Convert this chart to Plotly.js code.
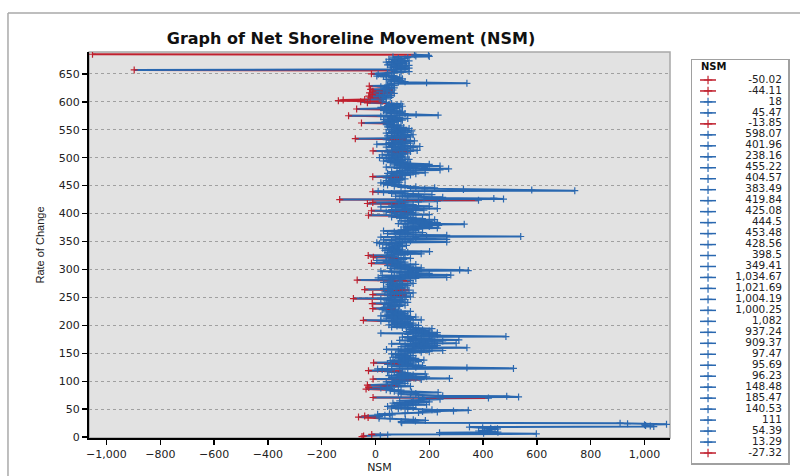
<!DOCTYPE html>
<html>
<head>
<meta charset="utf-8">
<script src="https://cdn.plot.ly/plotly-3.0.1.min.js"></script>
<style>html,body{margin:0;padding:0;background:#fff}#chart{width:800px;height:476px}</style>
</head>
<body>
<div id="chart"></div>
<script>
// Net Shoreline Movement per transect (transect 1 at the bottom, upward)
const nsm = [
-50.02,-44.11,18,45.47,-13.85,598.07,401.96,238.16,455.22,404.57,
383.49,419.84,425.08,444.5,453.48,428.56,398.5,349.41,1034.67,1021.69,
1004.19,1000.25,1082,937.24,909.37,97.47,95.69,96.23,148.48,185.47,
140.53,111,54.39,13.29,-27.32,-63,15,-40,35,62,
8,52,110,160,230,175,290,345,210,120,
85,60,140,95,45,120,70,190,150,110,
65,135,200,160,90,140,180,240,175,420,
-9,532,488,250,160,130,95,150,85,233,
134,70,55,95,40,-35,55,20,-25,60,
130,85,-30,45,75,110,65,90,40,120,
75,100,170,-9,275,150,60,190,110,50,
140,80,185,95,120,70,45,100,-26,60,
25,8,513,340,150,90,60,175,120,45,
140,95,-7,70,160,110,55,180,130,85,
150,100,65,120,90,140,75,110,60,95,
130,170,200,85,250,140,41,180,120,340,
210,95,160,230,110,190,60,300,150,220,
130,250,90,310,170,120,210,140,100,485,
200,150,230,120,180,20,230,160,115,200,
140,175,125,210,150,100,60,130,80,160,
50,110,70,140,95,60,120,20,-45,170,
80,130,40,100,150,65,20,120,85,45,
110,70,95,40,130,60,85,25,75,-10,
55,30,65,90,45,110,70,35,-12,80,
120,60,95,40,75,110,20,-82,100,55,
130,70,45,115,-10,90,60,140,80,35,
100,55,125,-40,75,30,110,60,90,45,
120,80,50,100,140,65,30,90,55,130,
-68,95,60,150,10,265,110,70,25,280,
150,90,200,120,60,160,20,345,313,140,
95,55,170,110,70,130,45,90,150,60,
-15,80,110,40,95,5,65,105,50,130,
85,-8,70,40,-27,110,60,170,95,45,
120,201,75,35,100,60,90,27,80,50,
100,70,115,40,85,15,100,5,265,90,
130,60,30,265,110,75,150,20,540,190,
265,90,140,45,120,175,70,110,30,150,
95,160,120,230,160,105,200,140,235,110,
330,85,180,230,120,200,95,150,220,130,
175,90,140,60,110,80,-26,200,120,70,
150,95,40,130,-15,180,60,110,230,75,
150,20,200,100,60,140,85,-30,110,-10,
160,230,90,383,-133,476,440,180,250,120,
75,160,100,210,140,60,110,30,-10,10,
741,581,327,183,130,220,95,150,70,110,
45,85,30,65,20,90,50,75,40,95,
60,110,80,40,100,-10,55,90,130,70,
150,45,185,100,60,140,90,240,120,272,
80,183,40,150,240,110,70,200,130,90,
55,120,75,30,100,60,125,40,85,15,
110,70,50,95,25,80,120,60,100,45,
130,-9,155,90,60,120,75,140,40,165,
95,60,110,5,85,130,50,100,70,145,
90,40,115,-75,95,60,130,80,45,110,
140,70,95,40,120,85,60,135,100,50,
90,125,65,105,45,80,60,95,40,70,
55,-52,70,35,85,50,100,30,75,120,
45,90,60,20,-100,233,151,80,110,40,
95,55,100,30,80,35,-70,60,90,20,
70,100,45,80,50,95,60,-30,40,-55,
25,-138,-120,-40,40,30,-20,55,25,-25,
60,15,-12,45,70,-22,30,55,-10,40,
65,-18,50,35,70,40,20,-23,70,45,
60,50,340,190,85,110,55,95,70,40,
100,80,60,90,30,5,66,40,10,-15,
45,70,95,125,60,67,-897,110,80,125,
95,55,110,75,125,45,90,60,115,80,
40,100,125,70,95,50,110,85,120,65,
200,150,197,145,-1052
];
const firstTransect = 1;
const legendCount = 35;
const xTickVals = [-1000,-800,-600,-400,-200,0,200,400,600,800,1000];
const yTickVals = [0,50,100,150,200,250,300,350,400,450,500,550,600,650];

const RED = '#c0202e', BLUE = '#2a68b0';
const colorOf = v => v < 0 ? RED : BLUE;
const ids = nsm.map((v, i) => firstTransect + i);

const traces = [];
// line runs: the segment into point i takes point i's colour
let runs = [];
for (let i = 1; i < nsm.length; i++) {
  const c = colorOf(nsm[i]);
  let r = runs[runs.length - 1];
  if (!r || r.c !== c) { r = {c: c, x: [nsm[i-1]], y: [ids[i-1]]}; runs.push(r); }
  r.x.push(nsm[i]); r.y.push(ids[i]);
}
runs.forEach(r => traces.push({type:'scatter', mode:'lines', x:r.x, y:r.y, xaxis:'x', yaxis:'y',
  line:{color:r.c, width:2}, showlegend:false, hoverinfo:'skip'}));
[RED, BLUE].forEach(c => {
  const xs = [], ys = [];
  nsm.forEach((v, i) => { if (colorOf(v) === c) { xs.push(v); ys.push(ids[i]); } });
  traces.push({type:'scatter', mode:'markers', x:xs, y:ys, xaxis:'x', yaxis:'y',
    marker:{symbol:'cross-thin-open', size:5, color:c, line:{color:c, width:1.2}}, showlegend:false, hoverinfo:'skip'});
});

// legend drawn on its own small axes
const legVals = nsm.slice(0, legendCount);
const legLabels = legVals.map(v => v.toLocaleString('en-US', {maximumFractionDigits: 2}));
[RED, BLUE].forEach(c => {
  const lx = [], ly = [], mx = [], my = [];
  legVals.forEach((v, k) => { if (colorOf(v) === c) { lx.push(8, 24, null); ly.push(k+1, k+1, null); mx.push(16); my.push(k+1); } });
  traces.push({type:'scatter', mode:'lines', x:lx, y:ly, xaxis:'x2', yaxis:'y2', line:{color:c, width:1.5}, showlegend:false, hoverinfo:'skip'});
  traces.push({type:'scatter', mode:'markers', x:mx, y:my, xaxis:'x2', yaxis:'y2',
    marker:{symbol:'cross-thin-open', size:6, color:c, line:{color:c, width:1.2}}, showlegend:false, hoverinfo:'skip'});
});
traces.push({type:'scatter', mode:'text', x:legVals.map(() => 90), y:legVals.map((v, k) => k+1),
  text:legLabels, textposition:'middle left', xaxis:'x2', yaxis:'y2',
  textfont:{family:'DejaVu Sans', size:10.5, color:'#222'}, showlegend:false, hoverinfo:'skip'});

const tickFont = {family:'DejaVu Sans', size:11, color:'#222'};
const layout = {
  width:800, height:476, autosize:false,
  margin:{l:89, r:12, t:52, b:13},
  paper_bgcolor:'#ffffff', plot_bgcolor:'#ffffff',
  showlegend:false,
  title:{text:'<b>Graph of Net Shoreline Movement (NSM)</b>', font:{family:'DejaVu Sans', size:16, color:'#111'},
    x:351/800, xref:'container', xanchor:'center', y:1-38/476, yref:'container', yanchor:'middle'},
  xaxis:{domain:[0, 0.8312], range:[-1065, 1095], tickvals:xTickVals, tickformat:',', ticks:'outside', ticklen:5,
    tickcolor:'#000', tickwidth:1.5, showline:true, linecolor:'#000', linewidth:2, showgrid:false, zeroline:false,
    tickfont:tickFont, anchor:'y', automargin:false,
    title:{text:'NSM', font:{family:'DejaVu Sans', size:11, color:'#222'}, standoff:2}},
  yaxis:{domain:[0.0608, 1], range:[-1.5, 689], tickvals:yTickVals, ticks:'outside', ticklen:5,
    tickcolor:'#000', tickwidth:1.5, showline:true, linecolor:'#000', linewidth:2, showgrid:true,
    gridcolor:'#a0a0a0', griddash:'dot', gridwidth:1, zeroline:false, tickfont:tickFont, anchor:'x', automargin:false,
    title:{text:'Rate of Change', font:{family:'Liberation Sans', size:11, color:'#222'}, standoff:12}},
  xaxis2:{domain:[0.8627, 1], range:[0, 96], showline:true, mirror:true, linecolor:'#a0a0a0', linewidth:1.5,
    showgrid:false, zeroline:false, showticklabels:false, ticks:'', anchor:'y2', fixedrange:true},
  yaxis2:{domain:[0, 0.9805], range:[35.91, -0.82], showline:true, mirror:true, linecolor:'#a0a0a0', linewidth:1.5,
    showgrid:false, zeroline:false, showticklabels:false, ticks:'', anchor:'x2', fixedrange:true},
  annotations:[{text:'<b>NSM</b>', xref:'x2', yref:'y2', x:7, y:-0.2, xanchor:'left', yanchor:'middle',
    showarrow:false, font:{family:'DejaVu Sans', size:10, color:'#111'}}],
  shapes:[
    {type:'rect', xref:'x domain', yref:'y domain', x0:0, x1:1, y0:0, y1:1, fillcolor:'#e2e2e2',
      line:{color:'#a8a8a8', width:1.5}, layer:'below'},
    {type:'line', xref:'paper', yref:'paper', x0:-0.1159, x1:1.02, y0:1.0949, y1:1.0949, line:{color:'#a9a9a9', width:1.5}},
    {type:'line', xref:'paper', yref:'paper', x0:-0.1159, x1:-0.1159, y0:1.0949, y1:-0.05, line:{color:'#a9a9a9', width:1.5}}
  ]
};
Plotly.newPlot('chart', traces, layout, {staticPlot:true, displayModeBar:false});
</script>
</body>
</html>
